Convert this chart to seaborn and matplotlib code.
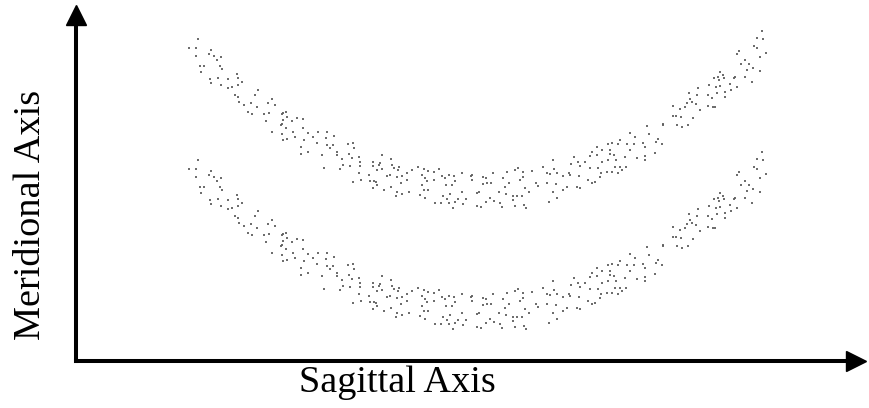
import matplotlib
matplotlib.use("Agg")
import matplotlib.pyplot as plt
import numpy as np
import pandas as pd
import seaborn as sns

# Sampled image-plane positions of the upper focal band (sagittal, meridional)
sagittal = [
    122, 113, 120, 120, 135, 133, 138, 141, 145, 124, 128, 144, 146, 125, 134, 135, 142, 145, 152, 161,
    162, 166, 152, 156, 162, 159, 162, 179, 182, 163, 168, 175, 181, 192, 196, 199, 172, 176, 188, 193,
    190, 206, 206, 196, 206,
    207, 210, 211, 207, 216, 221, 227, 205, 210, 217, 219, 211, 207, 227, 232, 237, 228, 242, 241, 250,
    251, 258, 225, 225, 232, 251, 254, 257, 246, 261, 261, 266, 272, 277, 278, 273, 276, 283, 267, 264,
    274, 284, 284, 248, 297, 297, 303, 283, 293, 285, 277, 294, 298, 301, 297,
    306, 304, 315, 316, 323, 322, 318, 301, 306, 311, 314, 321, 326, 331, 336, 342, 348, 352, 358, 363,
    300, 308, 315, 321, 320, 326, 325, 331, 333, 346, 349, 351, 346, 348, 352, 344, 349, 358, 366, 369,
    370, 373, 378, 379, 386, 395, 376, 386, 367, 371, 374, 359, 365, 373, 379, 377, 382, 390, 387,
    396, 396, 407, 410, 407, 411, 415, 417, 427, 431, 433, 439, 442, 447, 444, 447, 456, 467, 471, 474,
    477, 478, 481, 487, 493, 401, 403, 423, 429, 430, 449, 453, 460, 462, 471, 480, 487, 491, 477, 437,
    441, 446, 437, 414, 418, 410, 424, 426, 401, 405, 439, 448, 450, 473, 481,
    571, 587, 554, 559, 573, 567, 580, 582, 586, 544, 542, 536, 532, 551, 558, 569, 579, 554, 549, 561,
    569, 569, 521, 516, 514, 521, 526, 534, 534, 538, 540, 532, 526, 498, 495, 502, 504, 509, 514, 522,
    531, 536, 539, 544, 546, 550, 542, 494, 503, 512, 516, 519, 524, 525, 501, 504,
    686, 681, 687, 678, 681, 690, 684, 663, 661, 669, 665, 673, 677, 671, 684, 669, 676, 659, 644, 647,
    642, 648, 643, 638, 654, 658, 661, 644, 640, 633, 622, 613, 621, 632, 636, 641, 649, 655, 649, 614,
    616, 611, 620, 609, 624, 597, 604, 632, 637, 639, 597, 600, 605, 617, 587, 601, 606, 612,
]
meridional = [
    322, 313, 313, 305, 311, 307, 305, 301, 304, 295, 295, 295, 292, 289, 282, 278, 283, 276, 282, 287,
    283, 279, 273, 274, 276, 266, 264, 266, 271, 259, 256, 258, 254, 258, 262, 256, 249, 247, 247, 248,
    240, 247, 237, 229, 227,
    248, 249, 244, 241, 240, 243, 242, 236, 233, 229, 224, 222, 221, 233, 228, 224, 221, 229, 218, 223,
    229, 225, 214, 207, 209, 216, 213, 216, 206, 209, 206, 202, 217, 218, 213, 207, 203, 204, 196, 192,
    195, 199, 195, 193, 199, 195, 196, 188, 186, 181, 179, 180, 180, 176, 173,
    206, 198, 202, 196, 194, 191, 193, 191, 192, 185, 186, 184, 185, 188, 191, 194, 192, 190, 189, 192,
    179, 171, 174, 169, 165, 167, 178, 181, 169, 186, 183, 180, 176, 171, 171, 166, 163, 181, 185, 183,
    176, 186, 185, 180, 188, 185, 176, 169, 165, 162, 167, 158, 158, 158, 159, 153, 162, 162, 157,
    186, 181, 184, 183, 177, 178, 178, 188, 183, 189, 178, 191, 193, 189, 181, 184, 190, 194, 188, 187,
    201, 192, 188, 185, 188, 168, 169, 169, 174, 167, 173, 169, 178, 175, 178, 177, 171, 174, 169, 165,
    165, 165, 161, 163, 160, 159, 158, 154, 155, 154, 155, 156, 153, 159, 163,
    235, 236, 228, 224, 227, 218, 219, 222, 217, 221, 217, 218, 217, 217, 217, 214, 208, 211, 204, 203,
    205, 201, 214, 209, 205, 206, 211, 211, 207, 206, 201, 201, 199, 204, 197, 199, 195, 199, 193, 193,
    189, 189, 194, 194, 191, 194, 188, 186, 185, 181, 178, 179, 184, 188, 174, 173,
    330, 323, 322, 315, 313, 308, 304, 310, 307, 301, 297, 297, 293, 291, 290, 284, 279, 284, 289, 286,
    284, 283, 281, 283, 277, 283, 274, 275, 274, 276, 273, 268, 266, 266, 263, 268, 269, 271, 264, 262,
    259, 258, 257, 254, 251, 255, 252, 255, 254, 254, 245, 245, 244, 243, 237, 236, 234, 236,
]
# The lower band repeats the upper one, displaced along the meridional axis
band_separation = 121
band_names = ["upper", "lower"]

df = pd.concat(
    [
        pd.DataFrame({"sagittal": sagittal, "meridional": meridional, "band": band_names[0]}),
        pd.DataFrame({"sagittal": sagittal,
                      "meridional": np.array(meridional) - band_separation,
                      "band": band_names[1]}),
    ],
    ignore_index=True,
)

sns.set_style("white")
plt.rcParams["font.family"] = ["Liberation Serif", "DejaVu Serif"]

W, H = 869, 408
fig = plt.figure(figsize=(W / 100, H / 100), dpi=100)
x0, y0, x1, y1 = 76, 361, 856, 15  # axes corners in pixels
ax = fig.add_axes([x0 / W, 1 - y0 / H, (x1 - x0) / W, (y0 - y1) / H])

sns.scatterplot(
    data=df, x="sagittal", y="meridional", hue="band",
    palette={"upper": "#5e5e5e", "lower": "#5e5e5e"},
    marker="s", s=1.6, linewidth=0, alpha=0.9, legend=False, ax=ax,
)

ax.set_xlim(0, x1 - x0)
ax.set_ylim(0, y0 - y1)
ax.set_xticks([])
ax.set_yticks([])
ax.set_xlabel("")
ax.set_ylabel("")
for side in ("top", "right"):
    ax.spines[side].set_visible(False)
for side in ("left", "bottom"):
    ax.spines[side].set_linewidth(2.9)
    ax.spines[side].set_color("black")
    ax.spines[side].set_capstyle("projecting")

# arrowheads at the ends of both axes
ax.plot(1, 0, ">", color="black", markersize=14, transform=ax.transAxes, clip_on=False)
ax.plot(0, 1, "^", color="black", markersize=14, transform=ax.transAxes, clip_on=False)

fig.text(397 / W, 1 - 383 / H, "Sagittal Axis", ha="center", va="center",
         fontsize=27.5, color="black")
fig.text(31 / W, 1 - 215 / H, "Meridional Axis", ha="center", va="center",
         rotation=90, fontsize=27.5, color="black")

fig.savefig("out.png", dpi=100, facecolor="white")
